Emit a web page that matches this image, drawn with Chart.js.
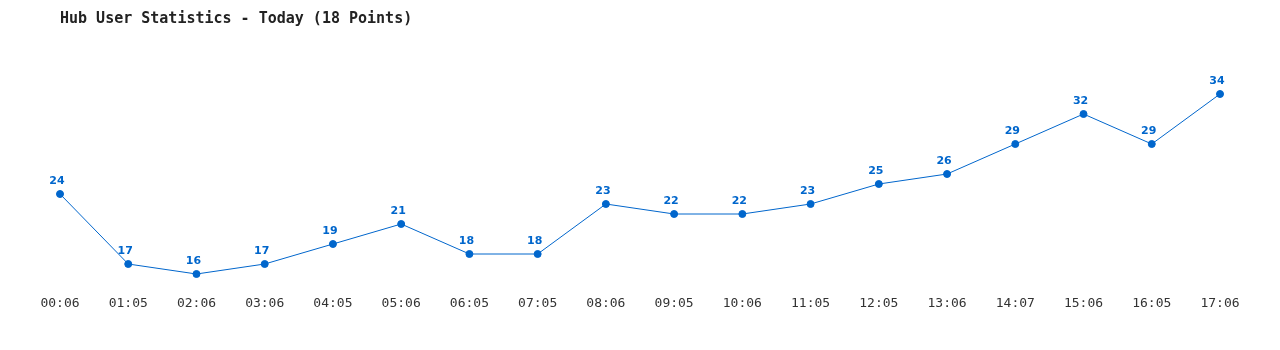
<!DOCTYPE html>
<html>
<head>
<meta charset="utf-8">
<script src="https://cdn.jsdelivr.net/npm/chart.js@4"></script>
<style>
html,body{margin:0;padding:0;background:#fff;}
#wrap{width:1280px;height:350px;position:relative;}
</style>
</head>
<body>
<div id="wrap"><canvas id="c"></canvas></div>
<script>
const categories = ["00:06","01:05","02:06","03:06","04:05","05:06","06:05","07:05","08:06","09:05","10:06","11:05","12:05","13:06","14:07","15:06","16:05","17:06"];
const userCounts = [24,17,16,17,19,21,18,18,23,22,22,23,25,26,29,32,29,34];
const chartTitle = "Hub User Statistics - Today (18 Points)";

const valueLabels = {
  id: 'valueLabels',
  afterDatasetsDraw(chart) {
    const ctx = chart.ctx;
    const meta = chart.getDatasetMeta(0);
    ctx.save();
    ctx.font = 'bold 11px "DejaVu Sans", sans-serif';
    ctx.fillStyle = '#0066cc';
    ctx.textAlign = 'center';
    ctx.textBaseline = 'middle';
    meta.data.forEach((pt, i) => {
      ctx.fillText(String(chart.data.datasets[0].data[i]), pt.x - 3, pt.y - 13);
    });
    ctx.restore();
  }
};

new Chart(document.getElementById('c'), {
  type: 'line',
  data: {
    labels: categories,
    datasets: [{
      data: userCounts,
      borderColor: '#0066cc',
      backgroundColor: '#0066cc',
      borderWidth: 1,
      pointRadius: 3.5,
      pointBorderWidth: 1,
      pointBackgroundColor: '#0066cc',
      pointBorderColor: '#0066cc',
      tension: 0,
      fill: false
    }]
  },
  options: {
    responsive: true,
    maintainAspectRatio: false,
    animation: false,
    layout: { padding: { left: 60, right: 60, top: 0, bottom: 40.4 } },
    plugins: {
      legend: { display: false },
      tooltip: { enabled: false },
      title: {
        display: true,
        text: chartTitle,
        align: 'start',
        color: '#222',
        font: { family: '"DejaVu Sans Mono", monospace', size: 15, weight: 'bold', lineHeight: 1.2 },
        padding: { top: 10, bottom: 26 }
      }
    },
    scales: {
      x: {
        offset: false,
        grid: { display: false },
        border: { display: false },
        ticks: {
          color: '#333',
          padding: -2,
          maxRotation: 0,
          autoSkip: false,
          font: { family: '"DejaVu Sans Mono", monospace', size: 13 }
        }
      },
      y: {
        display: false,
        min: 14.4,
        max: 38
      }
    }
  },
  plugins: [valueLabels]
});
</script>
</body>
</html>
